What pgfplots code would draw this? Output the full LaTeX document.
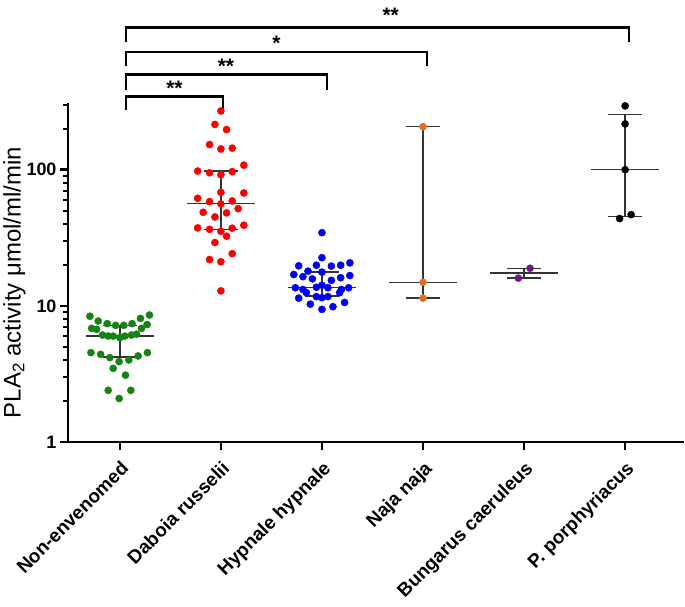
\documentclass[border=0pt]{standalone}
\usepackage{pgfplots}
\pgfplotsset{compat=1.18}
\usepackage{fontspec}
\setmainfont{Liberation Sans}

\definecolor{cNon}{RGB}{20,130,20}
\definecolor{cDab}{RGB}{250,0,0}
\definecolor{cHyp}{RGB}{0,0,245}
\definecolor{cNaj}{RGB}{225,110,30}
\definecolor{cBun}{RGB}{110,25,125}
\definecolor{cPor}{RGB}{0,0,0}
\colorlet{barcol}{black!80}

\begin{document}
\begin{tikzpicture}
\begin{axis}[
  scale only axis,
  width=617pt, height=340pt,
  ymode=log, ymin=1, ymax=310,
  xmin=-0.513, xmax=5.58,
  axis lines*=left,
  axis line style={line width=2.5pt},
  xtick pos=bottom, ytick pos=left,
  tick align=outside,
  major tick length=8pt, minor tick length=5pt,
  major tick style={black, line width=2.5pt},
  minor tick style={black, line width=2pt},
  xtick={0,1,2,3,4,5},
  xticklabels={Non-envenomed, Daboia russelii, Hypnale hypnale, Naja naja, Bungarus caeruleus, P. porphyriacus},
  xticklabel style={yshift=-5pt, rotate=45, anchor=north east, font=\bfseries\fontsize{19}{21}\selectfont},
  ytick={1,10,100}, yticklabels={1,10,100},
  minor ytick={2,3,4,5,6,7,8,9,20,30,40,50,60,70,80,90,200,300},
  yticklabel style={font=\bfseries\fontsize{18}{20}\selectfont},
  ylabel={PLA\textsubscript{2} activity μmol/ml/min},
  ylabel style={font=\fontsize{24}{26}\selectfont, at={(ticklabel cs:0.47,-6pt)}},
  clip=false,
  unbounded coords=jump,
]
% individual values
\addplot[only marks, mark=*, mark size=3.6pt, color=cNon, mark options={draw=none, fill=cNon}] coordinates {
(-0.296,8.4)(-0.214,7.74)(-0.125,7.41)(-0.042,7.2)(0.039,7.2)(0.121,7.41)(0.204,8.1)(0.293,8.57)
(-0.279,6.84)(-0.230,6.73)(-0.171,6.11)(-0.115,6.01)(-0.066,6.0)(0,5.85)(0.049,6.0)(0.115,6.11)
(0.165,6.2)(0.214,6.84)(0.27,7.3)
(-0.286,4.54)(-0.19,4.41)(-0.099,4.17)(-0.007,3.90)(0.089,4.01)(0.181,4.29)(0.273,4.54)
(-0.066,3.48)(0.056,3.10)(-0.115,2.40)(0.109,2.40)(-0.007,2.09)
};
\addplot[only marks, mark=*, mark size=3.6pt, color=cDab, mark options={draw=none, fill=cDab}] coordinates {
(1.0,270)(0.941,215)(1.056,197)(0.888,153)(1.0,142)(1.112,144)(1.227,108)
(0.770,97.8)(0.888,95)(1.0,91.9)(1.112,96.7)(1.0,68.2)(1.227,67.5)
(0.770,61.7)(0.888,58.3)(1.0,56.1)(1.112,59)(1.171,51.8)(0.825,48.7)(1.056,48.2)(0.941,45)
(0.770,37.4)(0.888,36.5)(1.0,35.3)(1.112,37.2)(1.227,39.1)(0.941,29.2)(1.056,32.5)
(1.112,24.2)(0.888,21.9)(1.0,21.1)(1.0,12.9)
};
\addplot[only marks, mark=*, mark size=3.6pt, color=cHyp, mark options={draw=none, fill=cHyp}] coordinates {
(2.0,34.5)(2.0,22.6)(1.770,19.7)(1.945,19.9)(2.093,19.6)(2.185,19.9)(2.276,20.7)
(1.721,17.0)(1.812,16.4)(1.862,18.0)(1.905,15.8)(2.0,17.7)(2.093,15.4)(2.185,16.1)(2.276,16.7)
(1.737,13.6)(1.812,13.2)(1.945,13.7)(2.0,14.2)(2.059,13.6)(2.192,13.2)(2.264,13.6)
(1.770,11.4)(1.885,10.3)(2.0,9.43)(2.109,9.87)(2.224,10.6)
(1.846,12.5)(2.175,12.5)(1.945,11.7)(2.059,11.7)(2.0,11.5)
};
\addplot[only marks, mark=*, mark size=3.6pt, color=cNaj, mark options={draw=none, fill=cNaj}] coordinates {
(3,207)(3,14.9)(3,11.4)
};
\addplot[only marks, mark=*, mark size=3.6pt, color=cBun, mark options={draw=none, fill=cBun}] coordinates {
(4.059,18.9)(3.943,16.0)
};
\addplot[only marks, mark=*, mark size=3.6pt, color=cPor, mark options={draw=none, fill=cPor}] coordinates {
(5,294)(5,217)(5,100)(5.059,46.8)(4.945,43.8)
};
% median and spread
\addplot[barcol, line width=1.5pt] coordinates {
(-0.335,6.0)(0.335,6.0) (0,nan) (0,4.2)(0,7.2) (0,nan) (-0.17,7.2)(0.17,7.2) (0,nan) (-0.17,4.2)(0.17,4.2)
};
\addplot[barcol, line width=1.5pt] coordinates {
(0.665,56.6)(1.335,56.6) (1,nan) (1,36.5)(1,97.8) (1,nan) (0.83,97.8)(1.17,97.8) (1,nan) (0.83,36.5)(1.17,36.5)
};
\addplot[barcol, line width=1.5pt] coordinates {
(1.665,13.7)(2.335,13.7) (2,nan) (2,11.8)(2,17.7) (2,nan) (1.83,17.7)(2.17,17.7) (2,nan) (1.83,11.8)(2.17,11.8)
};
\addplot[barcol, line width=1.5pt] coordinates {
(2.665,14.9)(3.335,14.9) (3,nan) (3,11.4)(3,207) (3,nan) (2.83,207)(3.17,207) (3,nan) (2.83,11.4)(3.17,11.4)
};
\addplot[barcol, line width=1.5pt] coordinates {
(3.665,17.4)(4.335,17.4) (4,nan) (4,16.0)(4,18.9) (4,nan) (3.83,18.9)(4.17,18.9) (4,nan) (3.83,16.0)(4.17,16.0)
};
\addplot[barcol, line width=1.5pt] coordinates {
(4.665,100)(5.335,100) (5,nan) (5,45.3)(5,254) (5,nan) (4.83,254)(5.17,254) (5,nan) (4.83,45.3)(5.17,45.3)
};
% significance brackets
\draw[line width=2.5pt] (axis cs:0.06,275) |- (axis cs:1.02,345) -- (axis cs:1.02,275);
\draw[line width=2.5pt] (axis cs:0.06,386) |- (axis cs:2.05,500) -- (axis cs:2.05,386);
\draw[line width=2.5pt] (axis cs:0.06,578) |- (axis cs:3.04,733) -- (axis cs:3.04,578);
\draw[line width=2.5pt] (axis cs:0.06,861) |- (axis cs:5.04,1109) -- (axis cs:5.04,861);
\node[anchor=base, font=\bfseries\fontsize{21}{22}\selectfont, yshift=1pt] at (axis cs:0.54,345) {**};
\node[anchor=base, font=\bfseries\fontsize{21}{22}\selectfont, yshift=1pt] at (axis cs:1.05,500) {**};
\node[anchor=base, font=\bfseries\fontsize{21}{22}\selectfont, yshift=1pt] at (axis cs:1.55,733) {*};
\node[anchor=base, font=\bfseries\fontsize{21}{22}\selectfont, yshift=5pt] at (axis cs:2.68,1109) {**};
% page margins as in the reference
\path (rel axis cs:0,1) ++(-68pt,103pt) coordinate (tl);
\path (rel axis cs:1,0) ++(0pt,-160pt) coordinate (br);
\path (tl) (br);
\end{axis}
\end{tikzpicture}
\end{document}
